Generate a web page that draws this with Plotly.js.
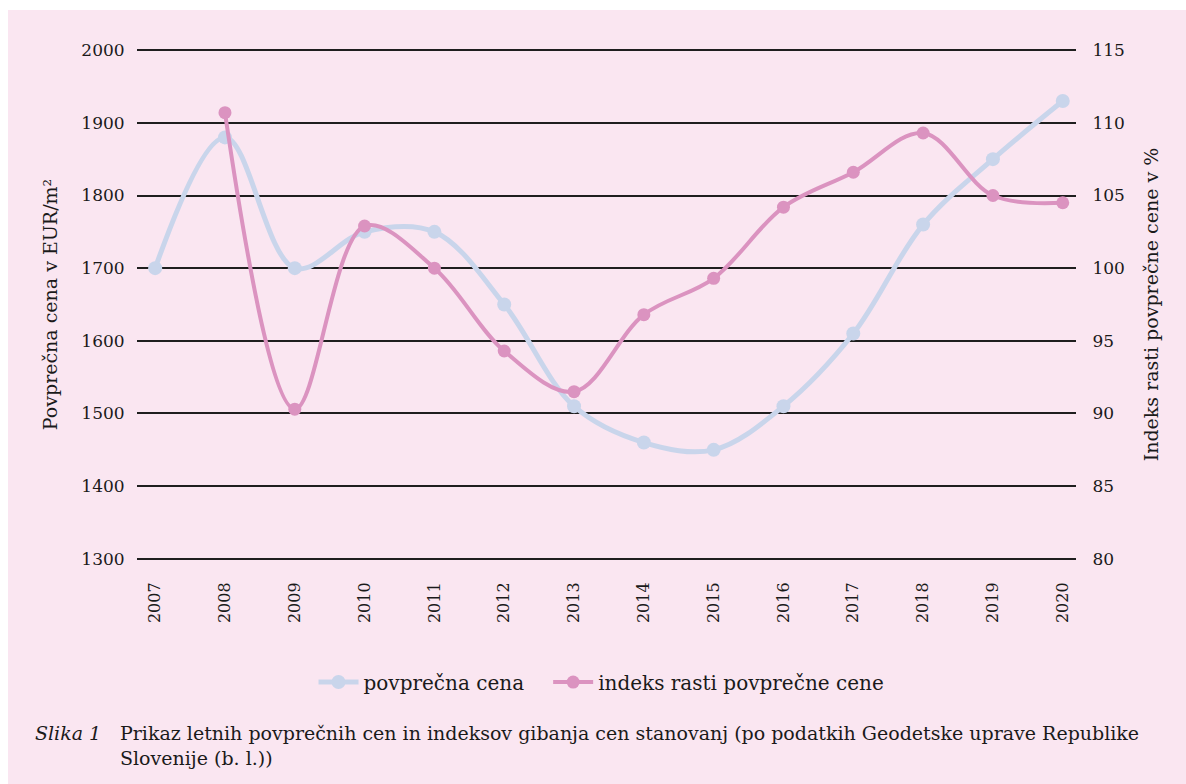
<!DOCTYPE html>
<html>
<head>
<meta charset="utf-8">
<script src="https://cdn.plot.ly/plotly-3.0.1.min.js"></script>
<style>
html,body{margin:0;padding:0;background:#ffffff;}
#chart{position:absolute;left:8px;top:10px;width:1178px;height:774px;background:#fae6f1;}
</style>
</head>
<body>
<div id="chart"></div>
<script>
const years = [2007,2008,2009,2010,2011,2012,2013,2014,2015,2016,2017,2018,2019,2020];
const avgPrice = [1700,1880,1700,1750,1750,1650,1510,1460,1450,1510,1610,1760,1850,1930];
const indexYears = [2008,2009,2010,2011,2012,2013,2014,2015,2016,2017,2018,2019,2020];
const growthIndex = [110.7,90.3,102.9,100.0,94.3,91.5,96.8,99.3,104.2,106.6,109.3,105.0,104.5];
const leftTicks = [1300,1400,1500,1600,1700,1800,1900,2000];
const rightTicks = [80,85,90,95,100,105,110,115];
const seriesNames = ['povprečna cena','indeks rasti povprečne cene'];

const serif = 'DejaVu Serif, serif';
const traces = [
  {x: years, y: avgPrice, name: seriesNames[0] + '\u00a0\u00a0\u00a0', type:'scatter', mode:'lines+markers',
   line:{color:'#c9d5eb', width:5, shape:'spline', smoothing:1}, marker:{color:'#c9d5eb', size:14}},
  {x: indexYears, y: growthIndex, name: seriesNames[1], type:'scatter', mode:'lines+markers', yaxis:'y2',
   line:{color:'#db93c0', width:4, shape:'spline', smoothing:1}, marker:{color:'#db93c0', size:13}}
];
const layout = {
  width:1178, height:774,
  paper_bgcolor:'#fae6f1', plot_bgcolor:'#fae6f1',
  margin:{l:129, r:110, t:38, b:223},
  font:{family:serif, color:'#1a1a1a', size:16},
  showlegend:true,
  legend:{orientation:'h', x:0.4947, xanchor:'center', y:-0.236, yanchor:'middle',
          font:{family:serif, size:20}, bgcolor:'rgba(0,0,0,0)', itemwidth:40, tracegroupgap:0},
  xaxis:{range:[2006.74,2020.19], tickvals: years, ticktext: years.map(String), tickangle:-90,
         showgrid:false, zeroline:false, showline:false, ticks:'outside', ticklen:14, tickcolor:'rgba(0,0,0,0)',
         tickfont:{family:serif, size:16}},
  yaxis:{range:[1297,2003], tickvals:leftTicks, showgrid:true, gridcolor:'#1e1e1e', gridwidth:2,
         zeroline:false, showline:false, ticks:'outside', ticklen:8, tickcolor:'rgba(0,0,0,0)',
         tickfont:{family:serif, size:17},
         title:{text:'Povprečna cena v EUR/m²', font:{family:serif, size:19}, standoff:18}},
  yaxis2:{range:[79.85,115.15], tickvals:rightTicks, overlaying:'y', side:'right', showgrid:false,
          zeroline:false, showline:false, ticks:'outside', ticklen:12, tickcolor:'rgba(0,0,0,0)',
          tickfont:{family:serif, size:17},
          title:{text:'Indeks rasti povprečne cene v %', font:{family:serif, size:19}, standoff:20}},
  annotations:[
    {xref:'paper', yref:'paper', x:-0.1108, y:-0.310, xanchor:'left', yanchor:'top', align:'left', showarrow:false,
     text:'<i>Slika 1</i>', font:{family:serif, size:19, color:'#1a1a1a'}},
    {xref:'paper', yref:'paper', x:-0.0205, y:-0.310, xanchor:'left', yanchor:'top', align:'left', showarrow:false,
     text:'Prikaz letnih povprečnih cen in indeksov gibanja cen stanovanj (po podatkih Geodetske uprave Republike<br>Slovenije (b. l.))',
     font:{family:serif, size:19, color:'#1a1a1a'}}
  ]
};
Plotly.newPlot('chart', traces, layout, {displayModeBar:false, staticPlot:true});
</script>
</body>
</html>
